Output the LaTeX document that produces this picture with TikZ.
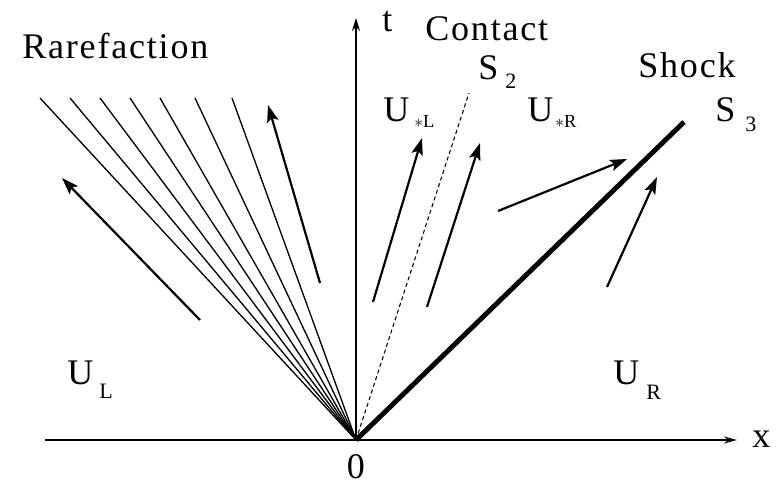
\documentclass[tikz,border=0pt]{standalone}
\usepackage{fontspec}
\setmainfont[LetterSpace=5]{Liberation Serif}
\usetikzlibrary{arrows.meta}

% label with a spaced, lowered subscript: base, index, gap, drop
\newcommand{\sublbl}[4]{#1\hspace{#3}\raisebox{-#4}{\fontsize{12.5}{14}\selectfont #2}}
\newcommand{\starlbl}[2]{U\hspace{#2}\raisebox{-0.12cm}{\fontsize{10.5}{12}\selectfont{\fontsize{10}{9}\selectfont$\ast$}#1}}

\begin{document}
\begin{tikzpicture}[>={Stealth[length=3.4mm,width=2.3mm,inset=0.7mm]}]
  \tikzset{
    axis/.style={line width=1pt},
    fan/.style={line width=0.75pt},
    vel/.style={->, line width=1.25pt},
    lbl/.style={anchor=base west, inner sep=0pt, font=\fontsize{20.5}{22}\selectfont}
  }
  \useasboundingbox (-7.12,-0.9) rectangle (8.44,8.8);
  % axes
  \coordinate (O) at (0,0);
  \coordinate (xl) at (-6.22,0);
  \coordinate (xr) at (7.62,0);
  \coordinate (tt) at (0,8.44);
  \draw[axis,-{Stealth[length=2.6mm,width=1.4mm]}] (xl) -- (xr);
  \draw[line width=0.8pt,-{Stealth[length=2.6mm,width=1.6mm]}] (O) -- (tt);
  \node[lbl] (xlab) at (7.92,-0.14) {x};
  \node[lbl] (tlab) at (0.52,8.16) {t};
  \node[lbl,anchor=base] (zero) at (0,-0.76) {0};
  % rarefaction fan
  \foreach \xa [count=\i] in {-6.32,-5.72,-5.12,-4.52,-3.92,-3.22,-2.48} {
    \coordinate (r\i) at (\xa,6.84);
    \draw[fan] (O) -- (r\i);
  }
  % contact and shock
  \coordinate (c2) at (2.26,6.94);
  \coordinate (s3) at (6.56,6.36);
  \draw[line width=0.6pt, dash pattern=on 0.08cm off 0.06cm] (O) -- (c2);
  \draw[line width=2.8pt] (O) -- (s3);
  % velocity arrows
  \foreach \tx/\ty/\hx/\hy [count=\i] in {-3.12/2.4/-5.88/5.24, -0.72/3.14/-1.76/6.7,
      0.34/2.76/1.32/6.04, 1.42/2.66/2.48/5.94, 2.84/4.58/5.42/5.62, 5.02/3.06/6.02/5.26} {
    \coordinate (v\i t) at (\tx,\ty);
    \coordinate (v\i h) at (\hx,\hy);
    \draw[vel] (v\i t) -- (v\i h);
  }
  % labels
  \node[lbl] (rare) at (-6.68,7.62) {Rarefaction};
  \node[lbl] (cont) at (1.38,7.98) {Contact};
  \node[lbl] (shk) at (5.64,7.24) {Shock};
  \node[lbl] (s2lab) at (2.44,7.2) {\sublbl{S}{2}{0.14cm}{0.18cm}};
  \node[lbl] (s3lab) at (7.18,6.36) {\sublbl{S}{3}{0.2cm}{0.2cm}};
  \node[lbl] (ustl) at (0.54,6.36) {\starlbl{L}{0.1cm}};
  \node[lbl] (ustr) at (3.42,6.36) {\starlbl{R}{0.04cm}};
  \node[lbl] (ul) at (-5.78,1.1) {\sublbl{U}{L}{0.12cm}{0.28cm}};
  \node[lbl] (ur) at (5.14,1.1) {\sublbl{U}{R}{0.14cm}{0.3cm}};
\end{tikzpicture}
\end{document}
